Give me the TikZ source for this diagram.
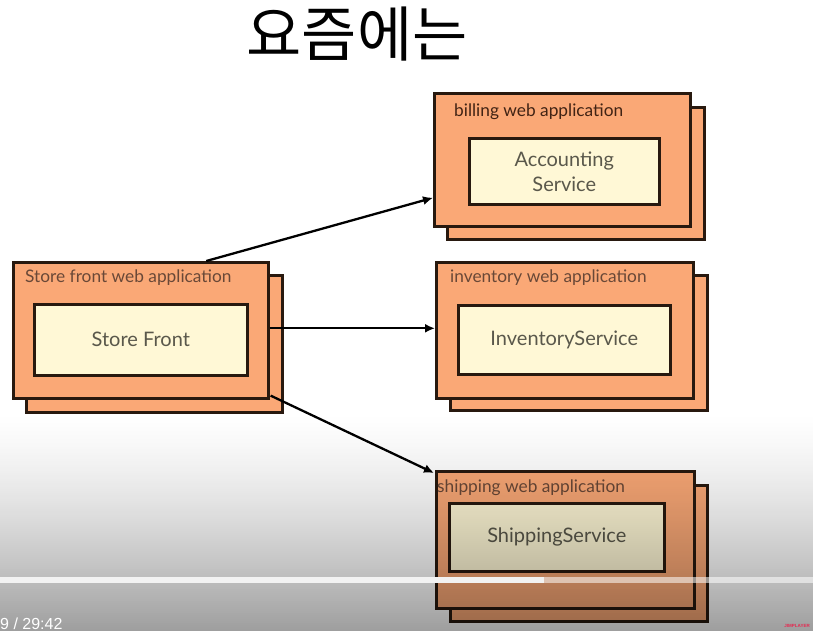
\documentclass[tikz,border=0pt]{standalone}
\usepackage{fontspec}
\setmainfont{Lato}
\newfontfamily\krfont{Noto Sans CJK KR}
\newfontfamily\uifont{Liberation Sans}
\usetikzlibrary{arrows.meta}
\definecolor{appfill}{RGB}{250,168,118}
\definecolor{svcfill}{RGB}{255,248,214}
\definecolor{edge}{RGB}{40,25,15}
\definecolor{svctext}{RGB}{90,88,75}
\definecolor{apptext}{RGB}{105,72,55}
\definecolor{apptextdark}{RGB}{65,35,20}
\definecolor{logored}{RGB}{230,40,80}
\tikzset{
  appbox/.style={draw=edge, fill=appfill, line width=2.6pt, inner sep=0pt, anchor=north west},
  svcbox/.style={draw=edge, fill=svcfill, line width=2.6pt, inner sep=0pt, anchor=north west,
    font=\fontsize{20}{25}\selectfont, text=svctext, align=center},
  applabel/.style={anchor=west, inner sep=0pt, font=\fontsize{17.3}{20}\selectfont, text=apptext},
  conn/.style={draw=black, line width=2.3pt, -{Latex[length=10pt,width=9pt]}}
}
\begin{document}
\begin{tikzpicture}[x=1pt,y=-1pt]
\useasboundingbox (0,0) rectangle (813,631);
\fill[white] (0,0) rectangle (813,631);

% title
\node[font=\krfont\fontsize{60}{64}\selectfont, inner sep=0pt] (title) at (357,34) {요즘에는};

% store front
\node[appbox, minimum width=256pt, minimum height=137pt] (sfback) at (25,274) {};
\node[appbox, minimum width=255pt, minimum height=136pt] (sf) at (12,261) {};
\node[applabel] (sflabel) at (25,278) {Store front web application};
\node[svcbox, minimum width=213pt, minimum height=71pt] (sfsvc) at (33,303) {Store Front};

% billing
\node[appbox, minimum width=257pt, minimum height=132pt] (billback) at (446,106) {};
\node[appbox, minimum width=256pt, minimum height=133pt] (bill) at (433,92) {};
\node[applabel, text=apptextdark] (billlabel) at (454,112) {billing web application};
\node[svcbox, minimum width=190pt, minimum height=66pt] (billsvc) at (468,137) {Accounting\\Service};

% inventory
\node[appbox, minimum width=257pt, minimum height=135pt] (invback) at (449,274) {};
\node[appbox, minimum width=257pt, minimum height=136pt] (inv) at (435,261) {};
\node[applabel] (invlabel) at (450,278) {inventory web application};
\node[svcbox, minimum width=212pt, minimum height=69pt] (invsvc) at (457,304) {InventoryService};

% shipping
\node[appbox, minimum width=257pt, minimum height=136pt] (shipback) at (449,484) {};
\node[appbox, minimum width=258pt, minimum height=137pt] (ship) at (435,470) {};
\node[applabel] (shiplabel) at (437,488) {shipping web application};
\node[svcbox, minimum width=215pt, minimum height=68pt] (shipsvc) at (448,502) {ShippingService};

% connectors
\draw[conn] ([xshift=65.5pt]sf.north) -- ([yshift=-38pt]bill.west);
\draw[conn] ([yshift=2pt]sf.east) -- ([yshift=2pt]inv.west);
\draw[conn] ([xshift=1pt,yshift=4pt]sf.south east) -- ([xshift=-1pt,yshift=-3pt]ship.north west);

% video player overlay: darkening gradient made of thin strips
\foreach \i in {0,...,109} {
  \pgfmathsetmacro{\op}{0.38*((\i+0.5)/110)^1.4}
  \fill[black, fill opacity=\op] (0,{411+2*\i}) rectangle (813,{413+2*\i});
}
\fill[white!95!black] (0,577) rectangle (544,583);
\fill[white, fill opacity=0.55] (544,577) rectangle (813,583);
\node[anchor=base west, inner sep=0pt, text=white, font=\uifont\fontsize{16}{18}\selectfont] (time) at (0,629) {9~/~29:42};
\node[anchor=base east, inner sep=0pt, text=logored, font=\uifont\bfseries\fontsize{4.5}{5}\selectfont] (logo) at (810,627) {JIMPLAYER};
\end{tikzpicture}
\end{document}
